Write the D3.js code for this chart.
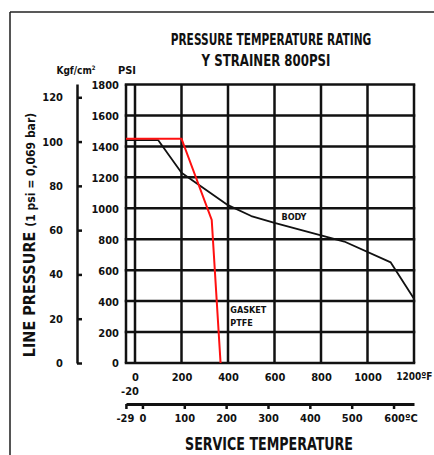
<!DOCTYPE html>
<html>
<head>
<meta charset="utf-8">
<script src="https://cdn.jsdelivr.net/npm/d3@7"></script>
<style>
  body { margin: 0; background: #fff; }
  svg text { font-family: "DejaVu Sans Condensed", "Liberation Sans Narrow", "Roboto", sans-serif; font-weight: bold; fill: #111; }
</style>
</head>
<body>
<div id="chart"></div>
<script>
// values
const fahrenheitTicks = [0, 200, 400, 600, 800, 1000, 1200];
const celsiusTicks = [-29, 0, 100, 200, 300, 400, 500, 600];
const psiTicks = [0, 200, 400, 600, 800, 1000, 1200, 1400, 1600, 1800];
const kgfTicks = [0, 20, 40, 60, 80, 100, 120];

// body curve: [temp °F, psi]
const bodyData = [[-20, 1440], [100, 1440], [200, 1230], [400, 1020], [500, 950],
                  [600, 905], [900, 785], [1100, 650], [1200, 415]];
// gasket PTFE curve
const gasketData = [[-20, 1450], [200, 1450], [330, 925], [368, 0]];

const width = 434, height = 455;

let svg = d3.select("#chart")
    .append("svg")
    .attr("width", width)
    .attr("height", height);

// outer frame (left + top edges visible)
svg.append("line").attr("x1", 10).attr("x2", 10).attr("y1", 12).attr("y2", height)
    .attr("stroke", "#555").attr("stroke-width", 2);
svg.append("line").attr("x1", 10).attr("x2", width).attr("y1", 12).attr("y2", 12)
    .attr("stroke", "#222").attr("stroke-width", 1.5);

// scales (the -20 strip at the left is narrower than the rest)
let x = d3.scaleLinear().domain([-20, 0, 1200]).range([126, 135, 414]);
let y = d3.scaleLinear().domain([0, 1800]).range([363, 84.5]);
let toC = f => (f - 32) * 5 / 9;
let xc = d3.scaleLinear().domain([toC(-20), toC(0), toC(1200)]).range(x.range());
let k = d3.scaleLinear().domain([0, 126]).range([363, 84]);

// grid
let grid = svg.append("g").attr("stroke", "#111").attr("stroke-width", 2.5);
grid.selectAll("line.v")
    .data([-20].concat(fahrenheitTicks))
    .enter().append("line")
    .attr("x1", d => x(d)).attr("x2", d => x(d))
    .attr("y1", y(1800)).attr("y2", y(0));
grid.selectAll("line.h")
    .data(psiTicks)
    .enter().append("line")
    .attr("x1", x(-20) - 1.25).attr("x2", x(1200) + 1.25)
    .attr("y1", d => y(d)).attr("y2", d => y(d));

// curves
let line = d3.line().x(d => x(d[0])).y(d => y(d[1]));
svg.append("path").datum(bodyData)
    .attr("fill", "none").attr("stroke", "#111").attr("stroke-width", 1.8)
    .attr("stroke-linejoin", "round")
    .attr("d", line);
svg.append("path").datum(gasketData)
    .attr("fill", "none").attr("stroke", "#ff1010").attr("stroke-width", 2)
    .attr("d", line);

// PSI labels
let psiAxis = svg.append("g")
    .attr("transform", `translate(${x(-20)}, 0)`)
    .call(d3.axisLeft(y).tickValues(psiTicks).tickSize(0).tickPadding(7).tickFormat(d3.format("d")));
psiAxis.select(".domain").remove();
psiAxis.selectAll("text").style("font-size", "11px").attr("dy", "0.36em");

// Kgf/cm2 axis
let kAxis = svg.append("g")
    .attr("transform", "translate(77, 0)")
    .call(d3.axisLeft(k).tickValues(kgfTicks).tickSize(-5).tickSizeOuter(0).tickPadding(14));
kAxis.select(".domain").attr("stroke-width", 2.5).attr("stroke", "#111");
kAxis.selectAll(".tick line").attr("stroke-width", 2.5).attr("stroke", "#111");
kAxis.selectAll("text").style("font-size", "11px");

// Fahrenheit labels
let fAxis = svg.append("g")
    .attr("transform", `translate(0, ${y(0)})`)
    .call(d3.axisBottom(x).tickValues(fahrenheitTicks).tickSize(0).tickPadding(10)
        .tickFormat(d => d === 1200 ? "1200ºF" : d));
fAxis.select(".domain").remove();
fAxis.selectAll("text").style("font-size", "11px");
fAxis.selectAll("text").filter(d => d === 1200)
    .style("font-size", "10px")
    .attr("text-anchor", "end").attr("x", 432 - x(1200));
svg.append("text")
    .attr("x", x(-20) + 4).attr("y", 395)
    .attr("text-anchor", "middle")
    .style("font-size", "11px")
    .text("-20");

// Celsius axis
let cAxis = svg.append("g")
    .attr("transform", "translate(0, 404)")
    .call(d3.axisBottom(xc).tickValues(celsiusTicks).tickSize(5).tickSizeOuter(0).tickPadding(5)
        .tickFormat(d => d === 600 ? "600ºC" : d));
cAxis.select(".domain").attr("stroke-width", 3).attr("stroke", "#111");
cAxis.selectAll(".tick line").attr("stroke-width", 2.5).attr("stroke", "#111");
cAxis.selectAll("text").style("font-size", "11px")
    .attr("dx", d => d === 600 ? 7 : (d === -29 ? -1 : 0));

// squeeze a centred text horizontally to a target width
function fitText(sel, cx, cy, w, rotate) {
    let natural = sel.node().getComputedTextLength();
    let s = Math.min(1, w / natural);
    sel.attr("text-anchor", "middle")
        .attr("transform", `translate(${cx}, ${cy})${rotate ? " rotate(-90)" : ""} scale(${s}, 1)`);
}

// titles
fitText(svg.append("text").style("font-size", "16px").text("PRESSURE TEMPERATURE RATING"),
    271, 45, 201);
fitText(svg.append("text").style("font-size", "16px").text("Y STRAINER 800PSI"),
    266, 66, 129);

svg.append("text")
    .attr("x", 76).attr("y", 74)
    .attr("text-anchor", "middle")
    .style("font-size", "10px")
    .html("Kgf/cm<tspan dy='-4' font-size='6px'>2</tspan>");
svg.append("text")
    .attr("x", 127).attr("y", 74)
    .attr("text-anchor", "middle")
    .style("font-size", "11px")
    .text("PSI");

let yTitle = svg.append("text").style("font-size", "16px");
yTitle.append("tspan").text("LINE PRESSURE ");
yTitle.append("tspan").style("font-size", "12px").text("(1 psi = 0,069 bar)");
fitText(yTitle, 35, 235, 258, true);

fitText(svg.append("text").style("font-size", "17px").text("SERVICE TEMPERATURE"),
    269, 450, 168);

// curve labels
svg.append("text")
    .attr("x", x(630)).attr("y", 220)
    .style("font-size", "9px")
    .text("BODY");
svg.append("text")
    .attr("x", x(410)).attr("y", 313)
    .style("font-size", "9px")
    .text("GASKET");
svg.append("text")
    .attr("x", x(410)).attr("y", 326)
    .style("font-size", "9px")
    .text("PTFE");
</script>
</body>
</html>
